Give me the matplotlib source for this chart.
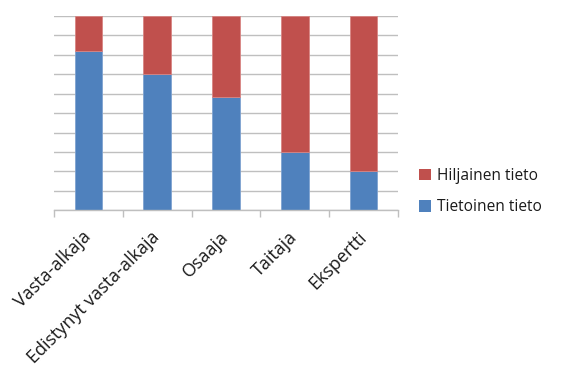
import matplotlib
matplotlib.use("Agg")
import matplotlib.pyplot as plt
import numpy as np

categories = ["Vasta-alkaja", "Edistynyt vasta-alkaja", "Osaaja", "Taitaja", "Ekspertti"]
tietoinen = [82, 70, 58, 30, 20]
hiljainen = [18, 30, 42, 70, 80]

plt.rcParams['font.family'] = ['Open Sans', 'DejaVu Sans']

fig = plt.figure(figsize=(5.65, 3.65), dpi=100)
ax = fig.add_axes([0.0956, 0.4233, 0.6088, 0.5342])

x = np.arange(len(categories))
b1 = ax.bar(x, tietoinen, width=0.4, color="#4F81BD", edgecolor="#7FA3D1", linewidth=0.6,
            label="Tietoinen tieto", zorder=3)
b2 = ax.bar(x, hiljainen, width=0.4, bottom=tietoinen, color="#C0504D", edgecolor="#D88583",
            linewidth=0.6, label="Hiljainen tieto", zorder=3)

ax.set_xlim(-0.5, len(categories) - 0.5)
ax.set_ylim(0, 100)
ax.set_yticks(np.arange(0, 101, 10))
ax.yaxis.grid(True, color="#BFBFBF", linewidth=1.0, zorder=0)
ax.tick_params(axis='y', left=False, labelleft=False)
for s in ["left", "right", "top"]:
    ax.spines[s].set_visible(False)
ax.spines["bottom"].set_color("#BFBFBF")
ax.spines["bottom"].set_linewidth(1.0)
ax.spines["bottom"].set_zorder(4)

ax.set_xticks(x)
ax.set_xticklabels(categories, rotation=45, ha="right", va="center", rotation_mode="anchor",
                   fontsize=13, color="#1a1a1a")
ax.tick_params(axis='x', which='major', length=0, pad=17)
ax.set_xticks(np.arange(-0.5, len(categories), 1.0), minor=True)
ax.tick_params(axis='x', which='minor', length=5, color="#BFBFBF", width=1.0)

handles = [b2, b1]
leg = fig.legend(handles, ["Hiljainen tieto", "Tietoinen tieto"], loc="center left",
                 bbox_to_anchor=(0.717, 0.475), frameon=False, fontsize=11.2,
                 handlelength=0.75, handleheight=0.75, handletextpad=0.4, labelspacing=1.0)
for t in leg.get_texts():
    t.set_color("#1a1a1a")
for h in leg.legend_handles:
    h.set_edgecolor("none")

fig.savefig("out.png", dpi=100)
